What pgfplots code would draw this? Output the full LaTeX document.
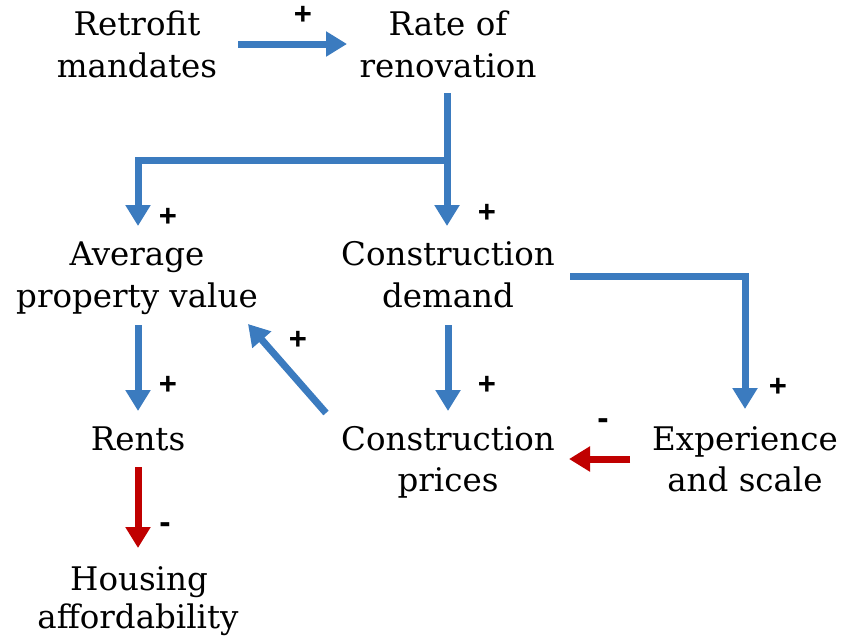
\documentclass[border=0pt]{standalone}
\usepackage{fontspec}
\setmainfont{DejaVu Serif}
\newfontfamily\signfont{Liberation Sans}
\usepackage{pgfplots}
\pgfplotsset{compat=1.18}
\usetikzlibrary{arrows.meta}
\definecolor{linkblue}{RGB}{59,123,191}
\definecolor{linkred}{RGB}{192,0,0}
\begin{document}
\begin{tikzpicture}
\begin{axis}[name=ax, hide axis, scale only axis, width=850pt, height=638pt,
  xmin=0, xmax=850, ymin=0, ymax=638, y dir=reverse, clip=false,
  every axis plot/.append style={line width=7pt, line join=miter},
  pos/.style={linkblue, -{Triangle[width=24pt,length=21pt]}},
  neg/.style={linkred, -{Triangle[width=24pt,length=21pt]}}]
% causal links (pixel coordinates of the reference)
\addplot[pos] coordinates {(238,44) (347,44)};
\addplot[pos] coordinates {(447,93) (447,226)};
\addplot[pos] coordinates {(447,160) (138,160) (138,226)};
\addplot[pos] coordinates {(138,325) (138,411)};
\addplot[pos] coordinates {(448,325) (448,411)};
\addplot[pos] coordinates {(570,276) (745,276) (745,409)};
\addplot[pos] coordinates {(326,413) (248,324)};
\addplot[neg] coordinates {(630,459) (569,459)};
\addplot[neg] coordinates {(138,467) (138,548)};
% variables
\begin{scope}[every node/.style={anchor=base, font=\fontsize{32.5}{40}\selectfont}]
\node at (axis cs:137,35) {Retrofit};
\node at (axis cs:137,77) {mandates};
\node at (axis cs:448,35) {Rate of};
\node at (axis cs:448,77) {renovation};
\node at (axis cs:137,265) {Average};
\node at (axis cs:137,307) {property value};
\node at (axis cs:448,265) {Construction};
\node at (axis cs:448,307) {demand};
\node at (axis cs:138,450) {Rents};
\node at (axis cs:448,450) {Construction};
\node at (axis cs:448,491) {prices};
\node at (axis cs:745,450) {Experience};
\node at (axis cs:745,491) {and scale};
\node at (axis cs:139,590) {Housing};
\node at (axis cs:138,628) {affordability};
\end{scope}
% polarities
\begin{scope}[every node/.style={font=\signfont\bfseries\fontsize{31}{31}\selectfont, inner sep=0pt}]
\node at (axis cs:303,15) {+};
\node at (axis cs:168,217) {+};
\node at (axis cs:487,213) {+};
\node at (axis cs:168,385) {+};
\node at (axis cs:487,385) {+};
\node at (axis cs:778,387) {+};
\node at (axis cs:298,340) {+};
\node[font=\signfont\bfseries\fontsize{34}{34}\selectfont] at (axis cs:603,424) {-};
\node[font=\signfont\bfseries\fontsize{34}{34}\selectfont] at (axis cs:165,528) {-};
\end{scope}
\end{axis}
\pgfresetboundingbox
\path (ax.south west) rectangle (ax.north east);
\end{tikzpicture}
\end{document}
